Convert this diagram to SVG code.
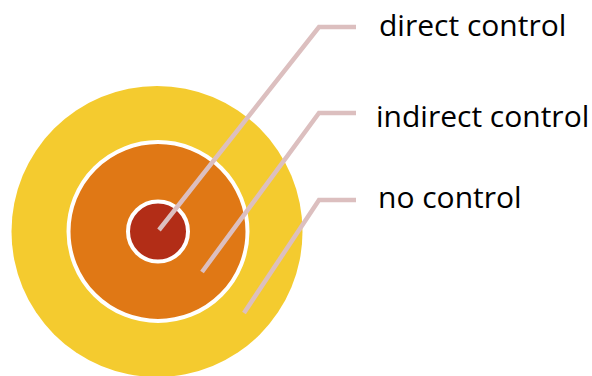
<svg xmlns="http://www.w3.org/2000/svg" width="592" height="376" viewBox="0 0 592 376">
<style>
.lbl{font-family:"Open Sans","Liberation Sans",sans-serif;font-size:30px;fill:#000}
.ln{fill:none;stroke:#dcbfbf;stroke-width:4.5;stroke-linecap:butt;stroke-linejoin:miter}
</style>
<rect width="592" height="376" fill="#fff"/>
<g id="outer"><circle cx="157" cy="231.5" r="145.5" fill="#f4cb2f"/></g>
<g id="middle"><circle cx="158" cy="231.5" r="89.5" fill="#e07815" stroke="#fff" stroke-width="4"/></g>
<g id="inner"><circle cx="158" cy="231.5" r="30" fill="#b22d17" stroke="#fff" stroke-width="4"/></g>
<g id="connectors">
<polyline class="ln" points="159,230 319,27 356,27"/>
<polyline class="ln" points="202,272 319,113 356,113"/>
<polyline class="ln" points="244,313 319,200 356,200"/>
</g>
<g id="label-direct"><text class="lbl" x="379" y="36">direct control</text></g>
<g id="label-indirect"><text class="lbl" x="376" y="127">indirect control</text></g>
<g id="label-no"><text class="lbl" x="378" y="208">no control</text></g>
</svg>
